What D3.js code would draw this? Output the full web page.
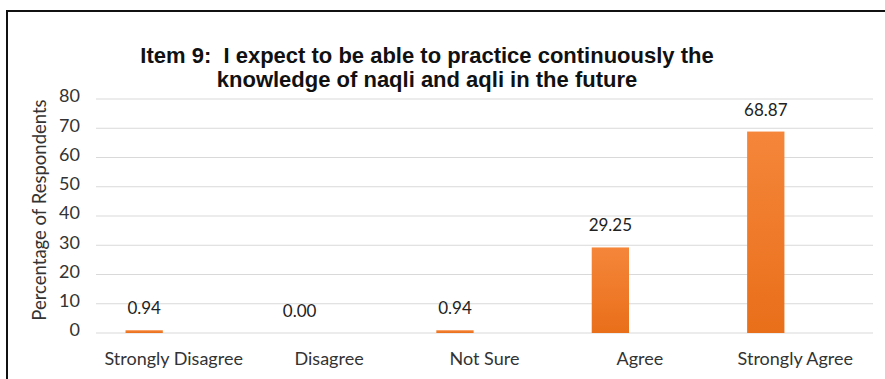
<!DOCTYPE html>
<html>
<head>
<meta charset="utf-8">
<script src="https://cdn.jsdelivr.net/npm/d3@7"></script>
<style>
  html, body { margin: 0; padding: 0; background: #fff; }
  svg { display: block; }
  .title { white-space: pre; }
</style>
</head>
<body>
<div id="chart"></div>
<script>
// Survey item 9 — share of respondents per answer
const categories = ["Strongly Disagree", "Disagree", "Not Sure", "Agree", "Strongly Agree"];
const percentages = [0.94, 0.00, 0.94, 29.25, 68.87];
const yTicks = [0, 10, 20, 30, 40, 50, 60, 70, 80];
const titleLines = [
  "Item 9:  I expect to be able to practice continuously the",
  "knowledge of naqli and aqli in the future"
];
const yAxisTitle = "Percentage of Respondents";

const W = 885, H = 379;
const plot = { left: 96, right: 873, top: 99, bottom: 333 };
const bodyFont = "Lato, 'Open Sans', sans-serif";

const svg = d3.select("#chart").append("svg")
  .attr("width", W).attr("height", H);

// bar fill gradient
const grad = svg.append("defs").append("linearGradient")
  .attr("id", "barFill").attr("x1", 0).attr("y1", 0).attr("x2", 0).attr("y2", 1);
grad.append("stop").attr("offset", "0%").attr("stop-color", "#F5863A");
grad.append("stop").attr("offset", "100%").attr("stop-color", "#E96F1A");

// frame
svg.append("rect")
  .attr("x", 7).attr("y", 11)
  .attr("width", W + 20).attr("height", H + 20)
  .attr("fill", "none").attr("stroke", "#111").attr("stroke-width", 2);

// scales
const x = d3.scaleBand().domain(categories).range([plot.left, plot.right]).padding(0);
const xBar = d3.scaleBand().domain(categories).range([plot.left, plot.right])
  .paddingInner(0.76).paddingOuter(0.38).align(0.25);
const y = d3.scaleLinear().domain([0, 80]).range([plot.bottom, plot.top]);

// gridlines
svg.append("g").selectAll("line").data(yTicks).join("line")
  .attr("x1", plot.left).attr("x2", plot.right)
  .attr("y1", d => y(d)).attr("y2", d => y(d))
  .attr("stroke", "#D9D9D9").attr("stroke-width", 1.2);

// y tick labels
svg.append("g").selectAll("text").data(yTicks).join("text")
  .attr("x", 80).attr("y", d => y(d) - 3)
  .attr("dy", "0.35em")
  .attr("text-anchor", "end")
  .attr("font-family", bodyFont).attr("font-size", 18)
  .attr("fill", "#333")
  .text(d => d);

// y axis title
svg.append("text")
  .attr("transform", `translate(46, 210) rotate(-90)`)
  .attr("text-anchor", "middle")
  .attr("font-family", bodyFont).attr("font-size", 18.5)
  .attr("fill", "#333")
  .text(yAxisTitle);

// bars
svg.append("g").selectAll("rect").data(percentages).join("rect")
  .attr("x", (d, i) => xBar(categories[i]))
  .attr("width", xBar.bandwidth())
  .attr("y", d => y(d))
  .attr("height", d => y(0) - y(d))
  .attr("fill", "url(#barFill)");

// value labels
svg.append("g").selectAll("text").data(percentages).join("text")
  .attr("x", (d, i) => xBar(categories[i]) + xBar.bandwidth() / 2)
  .attr("y", d => y(d) - 16)
  .attr("text-anchor", "middle")
  .attr("font-family", bodyFont).attr("font-size", 17)
  .attr("fill", "#222")
  .text(d => d.toFixed(2));

// category labels
svg.append("g").selectAll("text").data(categories).join("text")
  .attr("x", d => x(d) + x.bandwidth() / 2)
  .attr("y", 365)
  .attr("text-anchor", "middle")
  .attr("font-family", bodyFont).attr("font-size", 18)
  .attr("fill", "#333")
  .text(d => d);

// title
svg.append("g").selectAll("text").data(titleLines).join("text")
  .attr("class", "title")
  .attr("x", 427)
  .attr("y", (d, i) => 63 + i * 24)
  .attr("text-anchor", "middle")
  .attr("font-family", "'Liberation Sans', Arial, sans-serif")
  .attr("font-weight", "bold")
  .attr("font-size", 22)
  .attr("fill", "#111")
  .text(d => d);
</script>
</body>
</html>
